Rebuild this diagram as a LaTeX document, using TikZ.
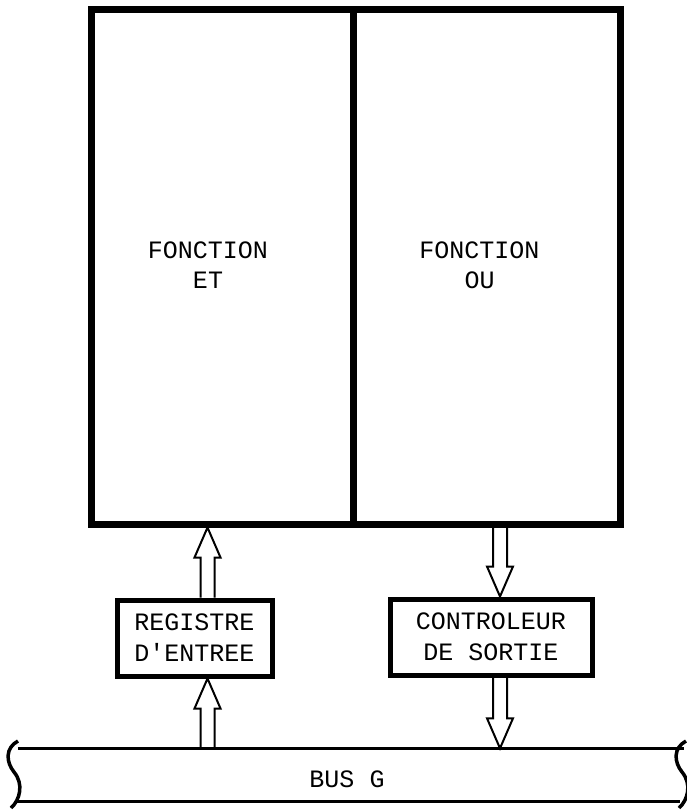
\documentclass[tikz,border=0pt]{standalone}
\usepackage{fontspec}
\setmonofont{Liberation Mono}
\usetikzlibrary{positioning,calc}
\tikzset{
    bigbox/.style={draw, line width=7pt, inner sep=0pt, minimum height=514pt},
    boxtext/.style={inner sep=0pt, font=\ttfamily\fontsize{25}{30}\selectfont, align=center},
    smallbox/.style={draw, line width=5pt, inner sep=0pt, minimum height=76pt, font=\ttfamily\fontsize{25}{31}\selectfont, align=center},
    fatline/.style={black, line width=2pt, line join=miter},
    busline/.style={black, line width=3.5pt}
}
\tikzset{
    busend/.pic={
		\draw[busline] (0,0) .. controls (-13,7) and (-12,21) .. (-4,31) .. controls (6,43) and (2,59) .. (-7,67);
	}
}
% hollow arrow from #1 to #2
\newcommand{\fatarrow}[2]{%
	\coordinate (fa-b) at ($(#2)!30pt!(#1)$);
	\draw[fatline] ($(#1)!7pt!90:(#2)$) -- ($(fa-b)!7pt!-90:(#1)$) -- ($(fa-b)!13pt!-90:(#1)$) -- (#2)
		-- ($(fa-b)!13pt!90:(#1)$) -- ($(fa-b)!7pt!90:(#1)$) -- ($(#1)!7pt!-90:(#2)$);
}
\begin{document}
\begin{tikzpicture}[x=1pt,y=-1pt]
			\useasboundingbox (0,0) rectangle (687,810);
			\node[bigbox, minimum width=262pt] (et) at (222,267) {};
			\node[bigbox, minimum width=267pt] (ou) at (486.5,267) {};
			\node[boxtext] (ettext) at ($(et.center)+(-14,-2)$) {FONCTION\\ET};
			\node[boxtext] (outext) at ($(ou.center)+(-7,-2)$) {FONCTION\\OU};
			\node[smallbox, minimum width=155pt] (reg) at (194.5,638) {REGISTRE\\D'ENTREE};
			\node[smallbox, minimum width=202pt] (ctl) at (491,637) {CONTROLEUR\\DE SORTIE};
			\node[inner sep=0pt, minimum width=670pt, minimum height=53pt] (bus) at (349,775) {};
			\node[boxtext] (busname) at (347,779) {BUS G};
			% bus
			\draw[busline] ($(bus.north west)+(4,0)$) -- (bus.north east);
			\draw[busline] ($(bus.south west)+(2,0)$) -- ($(bus.south east)+(-4,0)$);
			\pic at (18,741) {busend};
			\pic at (686,741) {busend};
			% arrows
			\coordinate (in1) at ($(reg.north)+(13,0)$);
			\coordinate (in2) at (in1 |- et.south);
			\coordinate (in0) at (in1 |- bus.north);
			\coordinate (in3) at (in1 |- reg.south);
			\fatarrow{in1}{in2}
			\fatarrow{in0}{in3}
			\coordinate (out1) at ($(ctl.north)+(9,0)$);
			\coordinate (out0) at (out1 |- ou.south);
			\coordinate (out2) at (out1 |- ctl.south);
			\coordinate (out3) at (out1 |- bus.north);
			\fatarrow{out0}{out1}
			\fatarrow{out2}{out3}
	\end{tikzpicture}
\end{document}
